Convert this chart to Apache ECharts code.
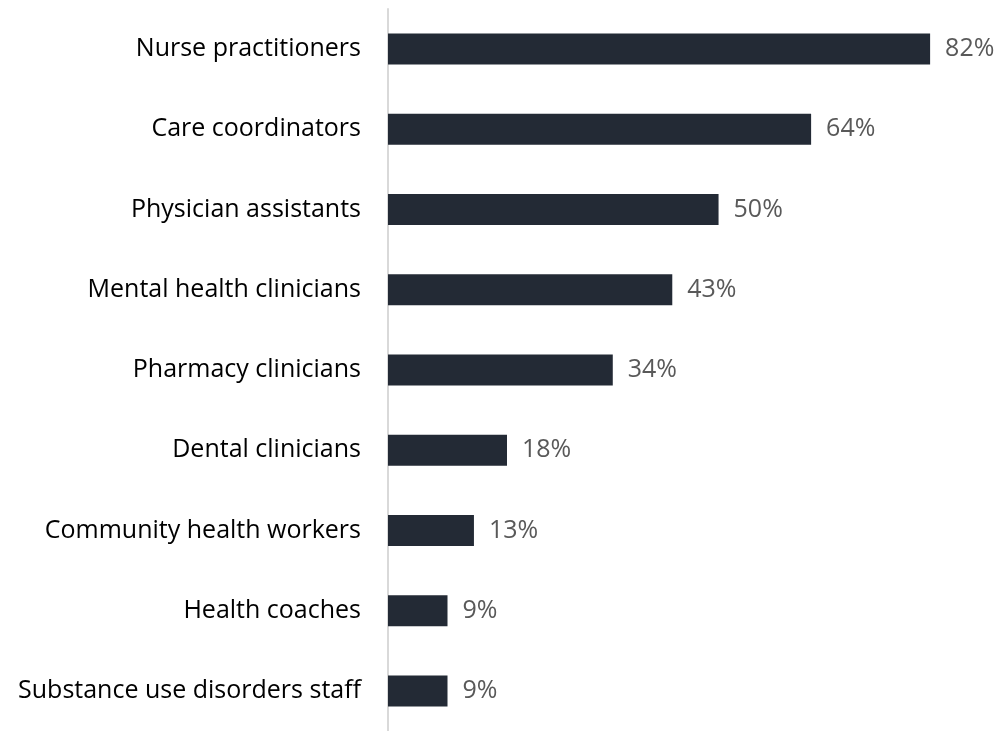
<!DOCTYPE html>
<html><head><meta charset="utf-8">
<script src="https://cdn.jsdelivr.net/npm/echarts@6/dist/echarts.min.js"></script>
<style>html,body{margin:0;padding:0;background:#fff}#c{width:1000px;height:731px}</style>
</head><body><div id="c"></div>
<script>
const categories = ["Nurse practitioners","Care coordinators","Physician assistants","Mental health clinicians","Pharmacy clinicians","Dental clinicians","Community health workers","Health coaches","Substance use disorders staff"];
const values = [82,64,50,43,34,18,13,9,9];

const chart = echarts.init(document.getElementById('c'));
chart.setOption({
  animation:false,
  grid:{left:388,right:17,top:9,bottom:-6,containLabel:false},
  xAxis:{type:'value',min:0,max:90,show:false},
  yAxis:{type:'category',inverse:true,data:categories,
    axisLine:{show:true,lineStyle:{color:'#d9d9d9',width:2}},
    axisTick:{show:false},
    axisLabel:{color:'#000',fontSize:25,fontFamily:'Open Sans',margin:27}},
  series:[{type:'bar',data:values,barWidth:31,
    itemStyle:{color:'#232a35'},
    label:{show:true,position:'right',distance:15,formatter:'{c}%',color:'#595959',fontSize:25,fontFamily:'Open Sans'}}]
});
</script></body></html>
